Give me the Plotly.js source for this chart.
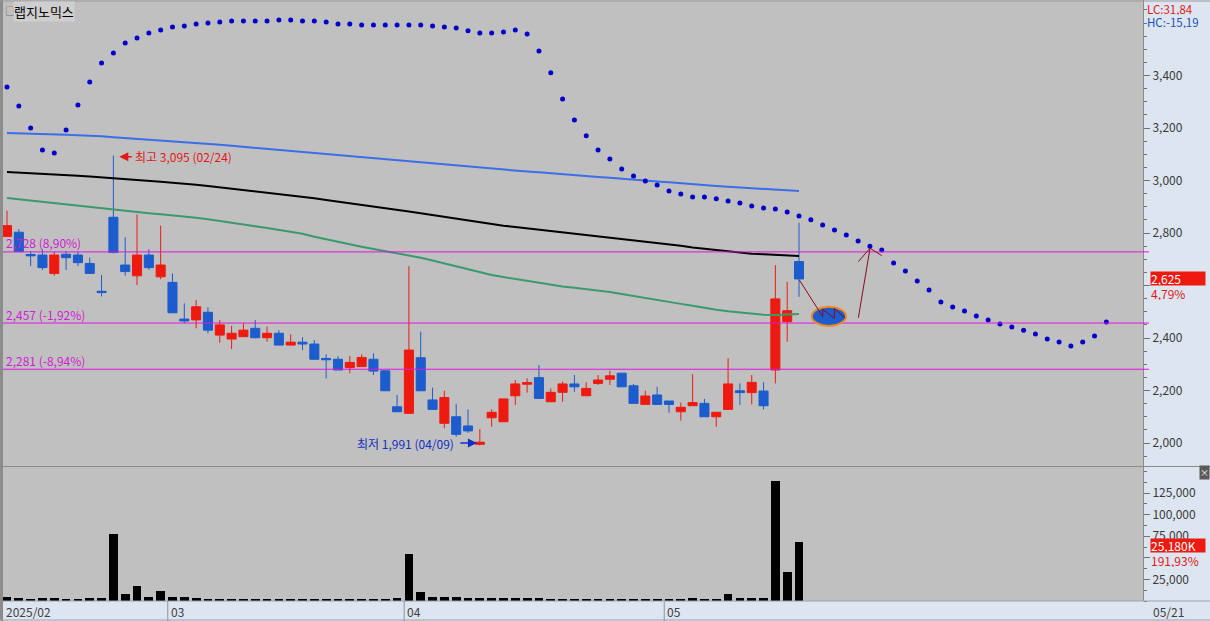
<!DOCTYPE html>
<html><head><meta charset="utf-8">
<script src="https://cdn.plot.ly/plotly-3.0.1.min.js"></script>
<style>html,body{margin:0;padding:0;background:#c0c0c0;overflow:hidden}</style>
</head><body><div id="chart" style="width:1210px;height:621px"></div>
<script>
// ---- data ----
const dates = ['02/11','02/12','02/13','02/14','02/17','02/18','02/19','02/20','02/21','02/24','02/25','02/26','02/27','02/28',
 '03/04','03/05','03/06','03/07','03/10','03/11','03/12','03/13','03/14','03/17','03/18','03/19','03/20','03/21','03/24','03/25','03/26','03/27','03/28','03/31',
 '04/01','04/02','04/03','04/04','04/07','04/08','04/09','04/10','04/11','04/14','04/15','04/16','04/17','04/18','04/21','04/22','04/23','04/24','04/25','04/28','04/29','04/30',
 '05/02','05/07','05/08','05/09','05/12','05/13','05/14','05/15','05/16','05/19','05/20','05/21'];
const openP  = [2787,2803,2718,2716,2646,2719,2716,2684,2578,2860,2678,2637,2716,2633,2612,2472,2469,2498,2411,2396,2405,2437,2401,2418,2373,2384,2377,2322,2319,2287,2291,2319,2275,2138,
 2113,2325,2164,2075,2100,2065,1995,2096,2081,2180,2224,2249,2157,2193,2225,2180,2227,2243,2266,2218,2147,2183,2160,2119,2142,2151,2100,2128,2199,2192,2198,2278,2462,2691];
const highP  = [2885,2815,2731,2738,2729,2731,2729,2706,2640,3095,2784,2871,2738,2828,2646,2532,2545,2517,2469,2446,2456,2469,2443,2430,2414,2403,2392,2338,2331,2331,2338,2342,2275,2183,
 2674,2424,2211,2199,2149,2128,2053,2128,2168,2240,2246,2297,2208,2234,2259,2231,2259,2275,2266,2225,2199,2214,2160,2154,2262,2168,2117,2323,2227,2259,2231,2678,2614,2839];
const lowP   = [2787,2729,2674,2659,2637,2659,2674,2646,2558,2722,2637,2602,2659,2624,2496,2456,2437,2418,2382,2358,2404,2399,2386,2373,2373,2354,2319,2246,2278,2266,2291,2259,2199,2119,
 2113,2199,2128,2056,2024,2039,1991,2062,2081,2145,2192,2170,2157,2157,2195,2180,2221,2221,2214,2151,2147,2147,2115,2085,2142,2100,2062,2128,2145,2147,2128,2227,2386,2557];
const closeP = [2828,2729,2713,2668,2716,2706,2687,2646,2573,2726,2653,2716,2668,2678,2496,2465,2519,2430,2450,2418,2430,2401,2418,2373,2384,2377,2319,2317,2278,2307,2326,2274,2199,2119,
 2354,2199,2128,2173,2033,2046,2003,2117,2168,2225,2230,2170,2193,2225,2214,2208,2240,2256,2214,2151,2179,2147,2147,2136,2154,2100,2117,2225,2192,2231,2142,2549,2504,2625];
const volume = [5000,3800,2300,3800,3800,2300,2300,3800,3800,77500,8100,17400,5000,11600,5000,5000,3800,2300,2300,2300,2300,2300,2300,2300,2300,2300,2300,2300,2300,2300,2300,2300,2300,3800,
 54400,10000,5000,5000,5000,3800,3800,3800,3800,3800,3800,3800,2300,2300,2300,2300,2300,2300,2300,2300,2300,2300,2300,2300,3800,2300,2300,8100,3800,3800,3800,139000,33600,68600];
const maBlue  = [3181,3180,3178,3177,3175,3174,3172,3171,3169,3165,3162,3159,3156,3153,3150,3147,3144,3140,3136,3132,3128,3124,3120,3116,3112,3108,3104,3100,3096,3092,3088,3084,3080,3076,
 3072,3068,3064,3060,3056,3052,3048,3045,3041,3038,3034,3031,3027,3024,3020,3017,3013,3010,3006,3003,3000,2996,2993,2989,2986,2982,2979,2976,2973,2971,2968,2965,2962,2960];
const maBlack = [3032,3030,3027,3025,3023,3020,3018,3015,3012,3009,3005,3002,2998,2995,2991,2988,2984,2979,2974,2969,2964,2959,2954,2949,2943,2938,2932,2926,2920,2914,2908,2901,2895,2889,
 2882,2875,2868,2861,2854,2847,2840,2834,2828,2823,2818,2813,2808,2803,2798,2793,2788,2783,2778,2772,2767,2762,2756,2751,2745,2740,2734,2729,2724,2721,2719,2716,2714,2712];
const maGreen = [2933,2928,2923,2918,2913,2908,2903,2898,2893,2888,2884,2880,2875,2871,2867,2862,2858,2852,2846,2840,2834,2826,2819,2812,2805,2797,2786,2776,2766,2757,2748,2739,2731,2724,
 2716,2706,2695,2684,2672,2661,2650,2640,2632,2625,2617,2610,2602,2596,2591,2586,2580,2575,2568,2560,2553,2545,2538,2530,2523,2515,2508,2502,2497,2492,2489,2488,2489,2491];
const sar = [3356,3284,3200,3116,3105,3192,3288,3375,3448,3486,3524,3543,3562,3573,3585,3589,3596,3600,3604,3608,3608,3608,3608,3611,3611,3608,3608,3604,3596,3596,3592,3592,3592,3592,
 3592,3592,3589,3585,3581,3570,3562,3562,3566,3573,3558,3493,3410,3310,3230,3170,3116,3082,3044,3017,2998,2983,2960,2949,2937,2937,2930,2922,2914,2903,2895,2891,2880,2865,
 2850,2830,2811,2792,2770,2750,2735,2686,2655,2617,2583,2537,2518,2503,2484,2469,2453,2442,2430,2415,2396,2385,2370,2385,2408,2461];
const levels = [2728, 2457, 2281];
const levelLabels = ['2,728 (8,90%)', '2,457 (-1,92%)', '2,281 (-8,94%)'];
const priceTicks = [2000,2200,2400,2600,2800,3000,3200,3400];
const priceTickText = ['2,000','2,200','2,400','','2,800','3,000','3,200','3,400'];
const volTicks = [25000,50000,75000,100000,125000];
const volTickText = ['25,000','','75,000','100,000','125,000'];
const monthLabels = ['2025/02','03','04','05'];
const monthStart = ['02/11','03/04','04/01','05/02'];

// ---- drawing ----
const idx = dates.map((d,i)=>i);
const sarIdx = sar.map((v,i)=>i);
const RED='#ee1a10', BLUE='#1c5ccc', MAG='#e014e0', STRIP='#dce5f0', DRED='#8a0a22';
const X0=3/1210, X1=1143/1210;
const FONT='"Noto Sans CJK KR", "Noto Sans", sans-serif';

const traces = [
 {type:'scatter',mode:'lines',x:idx,y:maBlue,line:{color:'#3c6ee6',width:2},xaxis:'x',yaxis:'y',hoverinfo:'skip'},
 {type:'scatter',mode:'lines',x:idx,y:maBlack,line:{color:'#000000',width:2},xaxis:'x',yaxis:'y',hoverinfo:'skip'},
 {type:'scatter',mode:'lines',x:idx,y:maGreen,line:{color:'#3a9a6c',width:2},xaxis:'x',yaxis:'y',hoverinfo:'skip'},
 {type:'candlestick',x:idx,open:openP,high:highP,low:lowP,close:closeP,xaxis:'x',yaxis:'y',whiskerwidth:0,
  increasing:{line:{color:RED,width:1},fillcolor:RED},decreasing:{line:{color:BLUE,width:1},fillcolor:BLUE},hoverinfo:'skip'},
 {type:'scatter',mode:'markers',x:sarIdx,y:sar,marker:{color:'#0000cc',size:5},xaxis:'x',yaxis:'y',hoverinfo:'skip'},
 {type:'bar',x:idx,y:volume,xaxis:'x',yaxis:'y2',marker:{color:'#000000',line:{width:0}},width:0.74,hoverinfo:'skip'}
];

const mpos = monthStart.map(m=>dates.indexOf(m)-0.4);
const shapes = [
 {type:'rect',xref:'paper',yref:'paper',x0:1144/1210,x1:1,y0:0,y1:1,fillcolor:STRIP,line:{width:0},layer:'below'},
 {type:'rect',xref:'paper',yref:'paper',x0:X0,x1:1144/1210,y0:0,y1:20/621,fillcolor:STRIP,line:{width:0},layer:'below'},
 {type:'rect',xref:'paper',yref:'paper',x0:0,x1:3/1210,y0:0,y1:1,fillcolor:'#8c8c8c',line:{width:0}},
 {type:'line',xref:'paper',yref:'paper',x0:0,x1:1,y0:154.5/621,y1:154.5/621,line:{color:'#8a8a8a',width:1}},
 {type:'line',xref:'paper',yref:'paper',x0:X0,x1:1,y0:20/621,y1:20/621,line:{color:'#9aa4ae',width:1}},
 {type:'line',xref:'paper',yref:'paper',x0:0,x1:1,y0:1/621,y1:1/621,line:{color:'#9aa4ae',width:1}},
 {type:'line',xref:'paper',yref:'paper',x0:0,x1:1,y0:620/621,y1:620/621,line:{color:'#9a9a9a',width:1}}
];
mpos.slice(1).forEach(p=>shapes.push({type:'line',xref:'x',yref:'paper',x0:p,x1:p,y0:0,y1:20/621,line:{color:'#8898a8',width:1}}));
levels.forEach(v=>shapes.push({type:'line',xref:'paper',yref:'y',x0:X0,x1:1149/1210,y0:v,y1:v,line:{color:MAG,width:1}}));
// hand-drawn marks near the last candles
shapes.push({type:'circle',xref:'x',yref:'y',x0:68.08,x1:70.98,y0:2446,y1:2519,fillcolor:BLUE,line:{color:'#f08a24',width:2}});
shapes.push({type:'path',xref:'x',yref:'y',path:'M 67.03,2621 L 69.01,2481 L 69.01,2509 L 69.99,2475 L 69.99,2513 L 70.9,2475',line:{color:DRED,width:1}});
shapes.push({type:'path',xref:'x',yref:'y',path:'M 72.02,2477 L 73.01,2742 M 72.02,2691 L 73.01,2742 L 74.0,2714',line:{color:DRED,width:1}});

const ann = [
 {xref:'paper',yref:'paper',x:3/1210,y:1-1/621,xanchor:'left',yanchor:'top',text:'□',showarrow:false,font:{size:10,color:'#6a6a6a',family:FONT}},
 {xref:'paper',yref:'paper',x:13/1210,y:1-0.5/621,xanchor:'left',yanchor:'top',text:'랩지노믹스',showarrow:false,bgcolor:'#cfcfcf',borderpad:0,font:{size:13,color:'#000',family:FONT}},
 {xref:'paper',yref:'paper',x:1146/1210,y:1-1/621,xanchor:'left',yanchor:'top',text:'LC:31,84',showarrow:false,height:13,borderpad:0,font:{size:11.5,color:'#e01818',family:FONT}},
 {xref:'paper',yref:'paper',x:1146/1210,y:1-14.5/621,xanchor:'left',yanchor:'top',text:'HC:-15,19',showarrow:false,height:13,borderpad:0,font:{size:11.5,color:'#2050c0',family:FONT}},
 {xref:'paper',yref:'paper',x:1151/1210,y:10/621,xanchor:'left',yanchor:'middle',text:'05/21',showarrow:false,font:{size:12,color:'#404040',family:FONT}},
 {xref:'paper',yref:'paper',x:4/1210,y:10/621,xanchor:'left',yanchor:'middle',text:monthLabels[0],showarrow:false,font:{size:12,color:'#404040',family:FONT}},
 // high / low markers
 {xref:'x',yref:'y',x:9.5,y:3090,ax:14,ay:0,text:'',showarrow:true,arrowhead:2,arrowsize:1.2,arrowwidth:1.5,arrowcolor:'#e01818'},
 {xref:'x',yref:'y',x:10.7,y:3090,xanchor:'left',yanchor:'middle',text:'최고 3,095 (02/24)',showarrow:false,font:{size:12,color:'#e01818',family:FONT}},
 {xref:'x',yref:'y',x:39.75,y:2000,ax:-18,ay:0,text:'',showarrow:true,arrowhead:2,arrowsize:1.2,arrowwidth:1.5,arrowcolor:'#1030c0'},
 {xref:'x',yref:'y',x:29.4,y:2000,xanchor:'left',yanchor:'middle',text:'최저 1,991 (04/09)',showarrow:false,font:{size:12,color:'#1030c0',family:FONT}},
 // current price & volume tags
 {xref:'paper',yref:'y',x:1150/1210,y:closeP[closeP.length-1],xanchor:'left',yanchor:'middle',text:'2,625',showarrow:false,bgcolor:RED,width:54,height:13,align:'left',borderpad:0,font:{size:12,color:'#fff',family:FONT}},
 {xref:'paper',yref:'y',x:1150/1210,y:closeP[closeP.length-1],yshift:-15,xanchor:'left',yanchor:'middle',text:'4,79%',showarrow:false,height:13,borderpad:0,font:{size:12,color:'#e01818',family:FONT}},
 {xref:'paper',yref:'y2',x:1150/1210,y:64200,xanchor:'left',yanchor:'middle',text:'25,180K',showarrow:false,bgcolor:RED,width:54,height:13,align:'left',borderpad:0,font:{size:12,color:'#fff',family:FONT}},
 {xref:'paper',yref:'y2',x:1150/1210,y:64200,yshift:-15,xanchor:'left',yanchor:'middle',text:'191,93%',showarrow:false,height:13,borderpad:0,font:{size:12,color:'#e01818',family:FONT}},
 {xref:'paper',yref:'paper',x:1204/1210,y:(621-472)/621,xanchor:'center',yanchor:'middle',text:'×',showarrow:false,bgcolor:'#5a5a5a',borderpad:0,font:{size:9,color:'#fff',family:FONT}}
];
monthLabels.slice(1).forEach((m,i)=>ann.push({xref:'x',yref:'paper',x:mpos[i+1]+0.1,y:10/621,xanchor:'left',yanchor:'middle',text:m,showarrow:false,font:{size:12,color:'#404040',family:FONT}}));
levels.forEach((v,i)=>ann.push({xref:'paper',yref:'y',x:4/1210,y:v,yshift:9,xanchor:'left',yanchor:'middle',text:levelLabels[i],showarrow:false,font:{size:12,color:'#d020d0',family:FONT}}));

const layout = {
 width:1210,height:621,autosize:false,margin:{l:0,r:0,t:0,b:0},
 paper_bgcolor:'#c0c0c0',plot_bgcolor:'#c0c0c0',showlegend:false,hovermode:false,dragmode:false,
 font:{family:FONT,size:12,color:'#333'},
 boxgap:0.1,boxgroupgap:0.15,bargap:0,
 xaxis:{domain:[X0,X1],range:[-0.338,96.1],anchor:'y2',showgrid:false,zeroline:false,showticklabels:false,ticks:'',showline:false,rangeslider:{visible:false},fixedrange:true},
 yaxis:{domain:[155/621,1],range:[1912.4,3687.6],side:'right',anchor:'x',tickvals:priceTicks,ticktext:priceTickText,ticks:'outside',ticklen:6,tickcolor:'#707070',
  showgrid:false,zeroline:false,showline:true,linecolor:'#8a8a8a',tickfont:{size:12,color:'#3a3a3a',family:FONT},
  minor:{dtick:50,tick0:0,ticks:'outside',ticklen:3,tickcolor:'#707070',showgrid:false},fixedrange:true},
 yaxis2:{domain:[20/621,154/621],range:[0,155100],side:'right',anchor:'x',tickvals:volTicks,ticktext:volTickText,ticks:'outside',ticklen:6,tickcolor:'#707070',
  showgrid:false,zeroline:false,showline:true,linecolor:'#8a8a8a',tickfont:{size:12,color:'#3a3a3a',family:FONT},
  minor:{dtick:12500,tick0:0,ticks:'outside',ticklen:3,tickcolor:'#707070',showgrid:false},fixedrange:true},
 shapes:shapes,annotations:ann
};
Plotly.newPlot('chart',traces,layout,{displayModeBar:false,staticPlot:true});
</script></body></html>
